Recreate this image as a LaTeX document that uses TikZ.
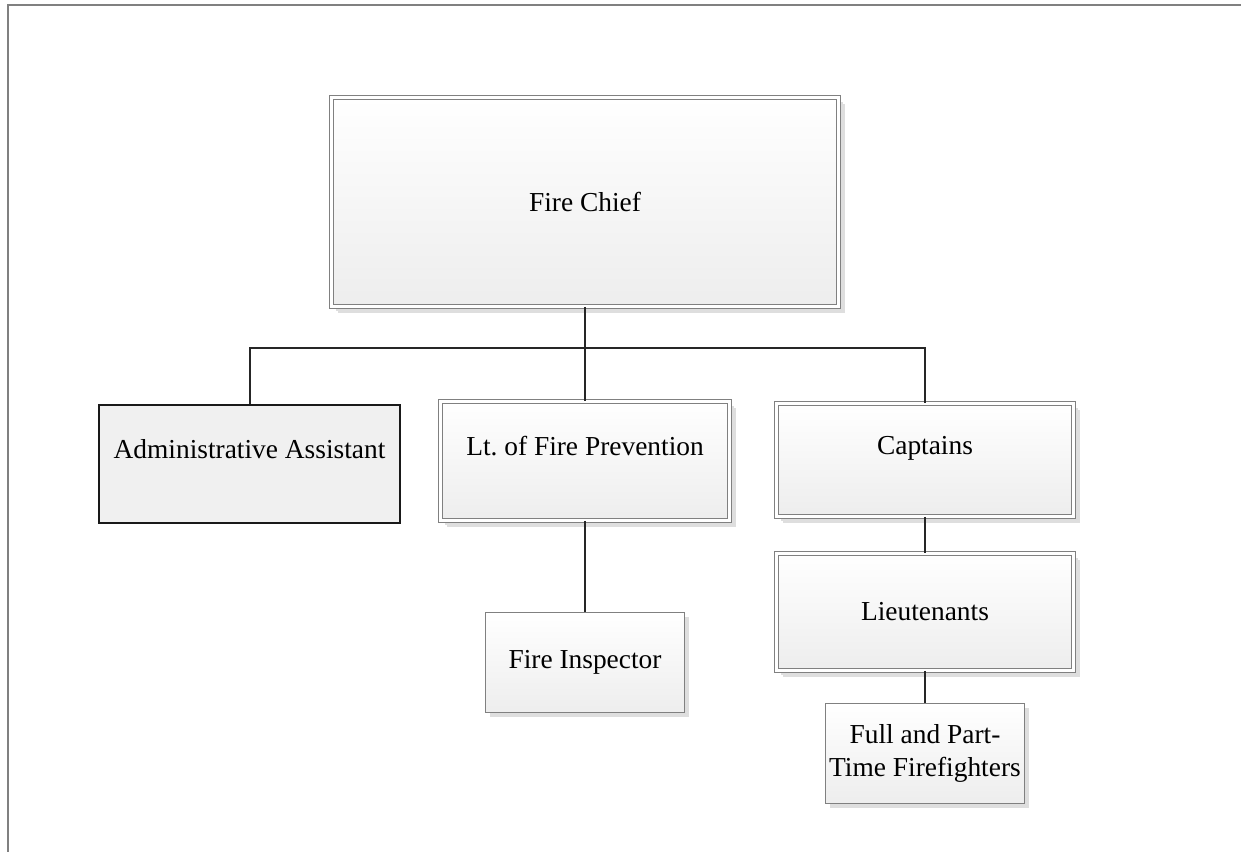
\documentclass[tikz,border=0pt]{standalone}
\usepackage{fontspec}
\setmainfont{Liberation Serif}
\usetikzlibrary{shadows}
\newcommand{\BoxFont}{\fontsize{15.6pt}{18.8pt}\selectfont}
\newcommand{\BusY}{348}
\colorlet{BoxLine}{black!50}
\colorlet{BoxBottom}{black!7}
\colorlet{LinkColor}{black!85}
\colorlet{FrameColor}{black!50}

\begin{document}
\begin{tikzpicture}[x=0.02cm, y=-0.02cm,
		unit/.style={draw=BoxLine, line width=0.02cm, top color=white, bottom color=BoxBottom,
			font=\BoxFont, align=center, inner sep=0pt,
			drop shadow={shadow xshift=0.09cm, shadow yshift=-0.09cm, fill=black!13, opacity=1}},
		head/.style={unit, double=white, double distance=0.06cm,
			drop shadow={shadow xshift=0.13cm, shadow yshift=-0.13cm, fill=black!13, opacity=1}},
		staff/.style={draw=black!90, line width=0.04cm, fill=black!6, font=\BoxFont, align=center, inner sep=0pt},
		uptext/.style={text height=0.7em, text depth=1.3em},
		link/.style={draw=LinkColor, line width=0.04cm}]
	\useasboundingbox (0,0) rectangle (1241,852);
	\draw[FrameColor, line width=0.04cm] (1241,5) -- (8,5) -- (8,852);
	
	\node[head, minimum width=10.14cm, minimum height=4.18cm] (chief) at (585,202) {Fire Chief};
	
	\node[staff, uptext, minimum width=6.02cm, minimum height=2.36cm] (admin) at (249.5,464) {Administrative Assistant};
	\node[head, uptext, minimum width=5.78cm, minimum height=2.38cm] (prev) at (585,461) {Lt.\ of Fire Prevention};
	\node[head, uptext, minimum width=5.94cm, minimum height=2.26cm] (capt) at (925,460) {Captains};
	
	\node[unit, minimum width=3.98cm, minimum height=2.02cm] (insp) at (585,662.5) {Fire Inspector};
	\node[head, minimum width=5.96cm, minimum height=2.34cm] (lieut) at (925,612) {Lieutenants};
	\node[unit, minimum width=3.98cm, minimum height=2.02cm] (ff) at (925,753.5) {Full and Part-\\Time Firefighters};
	
	\coordinate (bus) at (585,\BusY);
	\draw[link] (chief.south) -- (bus);
	\draw[link] (admin.north) |- (bus) -| (capt.north);
	\draw[link] (bus) -- (prev.north);
	\draw[link] (prev.south) -- (insp.north);
	\draw[link] (capt.south) -- (lieut.north);
	\draw[link] (lieut.south) -- (ff.north);
\end{tikzpicture}
\end{document}
